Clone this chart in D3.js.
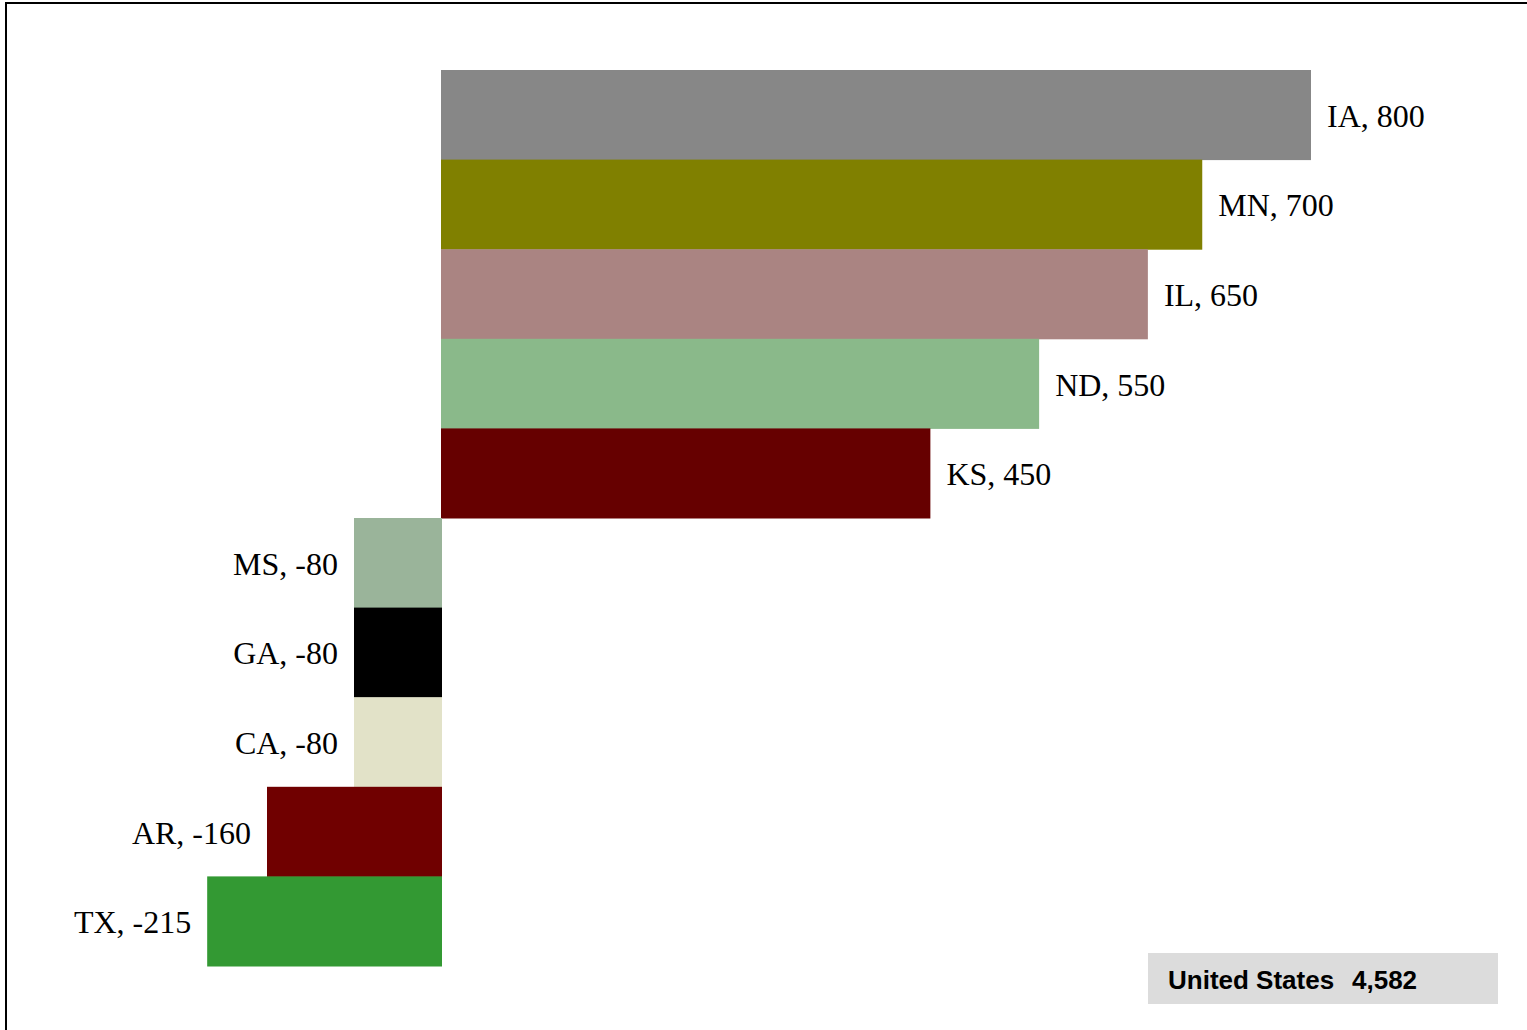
<!DOCTYPE html>
<html>
<head>
<meta charset="utf-8">
<script src="https://cdn.jsdelivr.net/npm/d3@7"></script>
<style>
  html, body { margin: 0; padding: 0; background: #fff; overflow: hidden; }
  svg { display: block; }
</style>
</head>
<body>
<div class="app"></div>
<script>
// data, top to bottom
const states = ['IA', 'MN', 'IL', 'ND', 'KS', 'MS', 'GA', 'CA', 'AR', 'TX']
const values = [800, 700, 650, 550, 450, -80, -80, -80, -160, -215]
const colors = ['#878787', '#808000', '#aa8482', '#8ab98a', '#660000',
  '#9ab49a', '#000000', '#e2e2c8', '#700000', '#339933']
const totalLabel = 'United States'
const totalValue = 4582

const main = () => {
  const W = 1527, H = 1030
  const svg = d3.select('.app').append('svg').attr('width', W).attr('height', H)

  // frame (right and bottom edges run off the page)
  svg.append('rect')
    .attr('x', 6).attr('y', 3)
    .attr('width', W + 20).attr('height', H + 20)
    .attr('fill', 'none').attr('stroke', '#000').attr('stroke-width', 2)

  const x = d3.scaleLinear().domain([0, 800]).range([441, 1311])
  const y = d3.scaleBand().domain(states).range([70, 966]).padding(0)

  const rows = states.map((s, i) => ({ state: s, value: values[i], color: colors[i] }))

  svg.selectAll('rect.bar')
    .data(rows)
    .enter()
    .append('rect')
    .attr('class', 'bar')
    .attr('x', d => x(Math.min(0, d.value)))
    .attr('y', d => y(d.state))
    .attr('width', d => Math.abs(x(d.value) - x(0)) + (d.value < 0 ? 1 : 0))
    .attr('height', y.bandwidth() + 0.5)
    .attr('fill', d => d.color)

  svg.selectAll('text.lbl')
    .data(rows)
    .enter()
    .append('text')
    .attr('class', 'lbl')
    .attr('x', d => d.value >= 0 ? x(d.value) + 16 : x(d.value) - 16)
    .attr('y', d => y(d.state) + y.bandwidth() / 2 + 12)
    .attr('text-anchor', d => d.value >= 0 ? 'start' : 'end')
    .attr('font-family', '"Liberation Serif", "Times New Roman", serif')
    .attr('font-size', 32)
    .attr('fill', '#000')
    .text(d => `${d.state}, ${d.value}`)

  // total box
  const box = svg.append('g')
  box.append('rect')
    .attr('x', 1148).attr('y', 953)
    .attr('width', 350).attr('height', 51)
    .attr('fill', '#dcdcdc')
  box.append('text')
    .attr('x', 1168).attr('y', 989)
    .attr('font-family', '"Liberation Sans", Arial, sans-serif')
    .attr('font-weight', 'bold').attr('font-size', 26)
    .text(totalLabel)
  box.append('text')
    .attr('x', 1352).attr('y', 989)
    .attr('font-family', '"Liberation Sans", Arial, sans-serif')
    .attr('font-weight', 'bold').attr('font-size', 26)
    .text(d3.format(',')(totalValue))
}

main()
</script>
</body>
</html>
